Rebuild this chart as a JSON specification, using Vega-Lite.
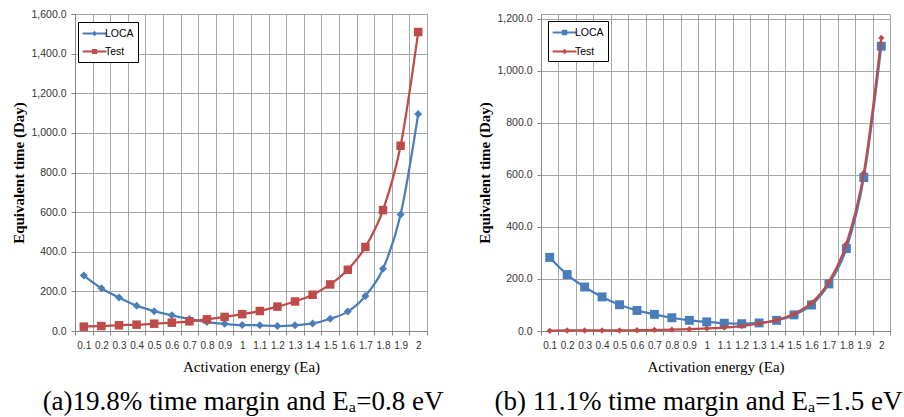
{
  "$schema": "https://vega.github.io/schema/vega-lite/v6.json",
  "background": "white",
  "padding": {"left": 11, "top": 8, "right": 0, "bottom": 0},
  "datasets": {
    "left": [
      {"ea": "0.1", "series": "LOCA", "value": 280}, {"ea": "0.2", "series": "LOCA", "value": 216}, {"ea": "0.3", "series": "LOCA", "value": 169}, {"ea": "0.4", "series": "LOCA", "value": 128}, {"ea": "0.5", "series": "LOCA", "value": 100},
      {"ea": "0.6", "series": "LOCA", "value": 79}, {"ea": "0.7", "series": "LOCA", "value": 61}, {"ea": "0.8", "series": "LOCA", "value": 45}, {"ea": "0.9", "series": "LOCA", "value": 36}, {"ea": "1", "series": "LOCA", "value": 30},
      {"ea": "1.1", "series": "LOCA", "value": 29}, {"ea": "1.2", "series": "LOCA", "value": 25}, {"ea": "1.3", "series": "LOCA", "value": 29}, {"ea": "1.4", "series": "LOCA", "value": 38}, {"ea": "1.5", "series": "LOCA", "value": 62},
      {"ea": "1.6", "series": "LOCA", "value": 98}, {"ea": "1.7", "series": "LOCA", "value": 177}, {"ea": "1.8", "series": "LOCA", "value": 314}, {"ea": "1.9", "series": "LOCA", "value": 588}, {"ea": "2", "series": "LOCA", "value": 1095},
      {"ea": "0.1", "series": "Test", "value": 22}, {"ea": "0.2", "series": "Test", "value": 25}, {"ea": "0.3", "series": "Test", "value": 29}, {"ea": "0.4", "series": "Test", "value": 32}, {"ea": "0.5", "series": "Test", "value": 37},
      {"ea": "0.6", "series": "Test", "value": 42}, {"ea": "0.7", "series": "Test", "value": 49}, {"ea": "0.8", "series": "Test", "value": 59}, {"ea": "0.9", "series": "Test", "value": 71}, {"ea": "1", "series": "Test", "value": 85},
      {"ea": "1.1", "series": "Test", "value": 101}, {"ea": "1.2", "series": "Test", "value": 123}, {"ea": "1.3", "series": "Test", "value": 149}, {"ea": "1.4", "series": "Test", "value": 183}, {"ea": "1.5", "series": "Test", "value": 235},
      {"ea": "1.6", "series": "Test", "value": 309}, {"ea": "1.7", "series": "Test", "value": 424}, {"ea": "1.8", "series": "Test", "value": 610}, {"ea": "1.9", "series": "Test", "value": 935}, {"ea": "2", "series": "Test", "value": 1509}
    ],
    "right": [
      {"ea": "0.1", "series": "LOCA", "value": 283}, {"ea": "0.2", "series": "LOCA", "value": 217}, {"ea": "0.3", "series": "LOCA", "value": 169}, {"ea": "0.4", "series": "LOCA", "value": 131}, {"ea": "0.5", "series": "LOCA", "value": 101},
      {"ea": "0.6", "series": "LOCA", "value": 79}, {"ea": "0.7", "series": "LOCA", "value": 64}, {"ea": "0.8", "series": "LOCA", "value": 51}, {"ea": "0.9", "series": "LOCA", "value": 41}, {"ea": "1", "series": "LOCA", "value": 35},
      {"ea": "1.1", "series": "LOCA", "value": 30}, {"ea": "1.2", "series": "LOCA", "value": 28}, {"ea": "1.3", "series": "LOCA", "value": 31}, {"ea": "1.4", "series": "LOCA", "value": 41}, {"ea": "1.5", "series": "LOCA", "value": 62},
      {"ea": "1.6", "series": "LOCA", "value": 100}, {"ea": "1.7", "series": "LOCA", "value": 181}, {"ea": "1.8", "series": "LOCA", "value": 317}, {"ea": "1.9", "series": "LOCA", "value": 590}, {"ea": "2", "series": "LOCA", "value": 1095},
      {"ea": "0.1", "series": "Test", "value": 0.5}, {"ea": "0.2", "series": "Test", "value": 2}, {"ea": "0.3", "series": "Test", "value": 2}, {"ea": "0.4", "series": "Test", "value": 2}, {"ea": "0.5", "series": "Test", "value": 2},
      {"ea": "0.6", "series": "Test", "value": 3}, {"ea": "0.7", "series": "Test", "value": 4}, {"ea": "0.8", "series": "Test", "value": 5}, {"ea": "0.9", "series": "Test", "value": 7}, {"ea": "1", "series": "Test", "value": 10},
      {"ea": "1.1", "series": "Test", "value": 13}, {"ea": "1.2", "series": "Test", "value": 19}, {"ea": "1.3", "series": "Test", "value": 29}, {"ea": "1.4", "series": "Test", "value": 42}, {"ea": "1.5", "series": "Test", "value": 66},
      {"ea": "1.6", "series": "Test", "value": 108}, {"ea": "1.7", "series": "Test", "value": 189}, {"ea": "1.8", "series": "Test", "value": 335}, {"ea": "1.9", "series": "Test", "value": 608}, {"ea": "2", "series": "Test", "value": 1127}
    ]
  },
  "resolve": {
    "scale": {"fill": "independent", "shape": "independent", "stroke": "independent"},
    "legend": {"fill": "independent", "shape": "independent", "stroke": "independent"}
  },
  "hconcat": [
    {
      "width": 352,
      "height": 317,
      "data": {"name": "left"},
      "title": {"text": "(a)19.8% time margin and Eₐ=0.8 eV", "orient": "bottom", "dx": -8, "offset": 15},
      "encoding": {
        "x": {"field": "ea", "type": "ordinal", "sort": null, "scale": {"type": "band", "paddingInner": 0, "paddingOuter": 0},
              "axis": {"title": "Activation energy (Ea)", "labelAngle": 0, "tickBand": "extent", "grid": true, "labelOverlap": false}},
        "y": {"field": "value", "type": "quantitative", "scale": {"domain": [0, 1600], "nice": false},
              "axis": {"title": "Equivalent time (Day)", "values": [0, 200, 400, 600, 800, 1000, 1200, 1400, 1600], "format": ",.1f", "grid": true}}
      },
      "layer": [
        {"transform": [{"filter": "datum.series === 'LOCA'"}], "mark": {"type": "line", "interpolate": "monotone", "strokeWidth": 2.25, "color": "#4A7EBB"}},
        {"transform": [{"filter": "datum.series === 'LOCA'"}], "mark": {"type": "point", "filled": true, "opacity": 1, "shape": "diamond", "size": 64, "color": "#4A7EBB"}},
        {"transform": [{"filter": "datum.series === 'Test'"}], "mark": {"type": "line", "interpolate": "monotone", "strokeWidth": 2.25, "color": "#BE4B48"}},
        {"transform": [{"filter": "datum.series === 'Test'"}], "mark": {"type": "point", "filled": true, "opacity": 1, "shape": "square", "size": 72, "color": "#BE4B48"}},
        {"mark": {"type": "point", "filled": true, "opacity": 0, "strokeWidth": 2},
         "encoding": {
           "fill": {"field": "series", "type": "nominal", "scale": {"domain": ["LOCA", "Test"], "range": ["#4A7EBB", "#BE4B48"]},
             "legend": {"title": null, "orient": "none", "legendX": 3, "legendY": 8, "strokeColor": "black", "fillColor": "white", "padding": 4, "symbolOpacity": 1, "symbolStrokeWidth": 2,
               "symbolSize": 156, "symbolOffset": 5, "labelOffset": 3, "rowPadding": 5, "labelFont": "Liberation Sans", "labelFontSize": 10.5, "labelColor": "black"}},
           "stroke": {"field": "series", "type": "nominal", "scale": {"domain": ["LOCA", "Test"], "range": ["#4A7EBB", "#BE4B48"]},
             "legend": {"title": null, "orient": "none", "legendX": 3, "legendY": 8, "strokeColor": "black", "fillColor": "white", "padding": 4, "symbolOpacity": 1, "symbolStrokeWidth": 2,
               "symbolSize": 156, "symbolOffset": 5, "labelOffset": 3, "rowPadding": 5, "labelFont": "Liberation Sans", "labelFontSize": 10.5, "labelColor": "black"}},
           "shape": {"field": "series", "type": "nominal", "scale": {"domain": ["LOCA", "Test"], "range": ["M-1.9,0H1.9M0,-0.22L0.22,0L0,0.22L-0.22,0Z", "M-1.9,0H1.9M-0.26,-0.26H0.26V0.26H-0.26Z"]},
             "legend": {"title": null, "orient": "none", "legendX": 3, "legendY": 8, "strokeColor": "black", "fillColor": "white", "padding": 4, "symbolOpacity": 1, "symbolStrokeWidth": 2,
               "symbolSize": 156, "symbolOffset": 5, "labelOffset": 3, "rowPadding": 5, "labelFont": "Liberation Sans", "labelFontSize": 10.5, "labelColor": "black"}}
         }}
      ]
    },
    {
      "width": 349,
      "height": 317,
      "data": {"name": "right"},
      "title": {"text": "(b) 11.1% time margin and Eₐ=1.5 eV", "orient": "bottom", "dx": -17, "offset": 15},
      "encoding": {
        "x": {"field": "ea", "type": "ordinal", "sort": null, "scale": {"type": "band", "paddingInner": 0, "paddingOuter": 0},
              "axis": {"title": "Activation energy (Ea)", "labelAngle": 0, "tickBand": "extent", "grid": true, "labelOverlap": false}},
        "y": {"field": "value", "type": "quantitative", "scale": {"domain": [0, 1219], "nice": false},
              "axis": {"title": "Equivalent time (Day)", "values": [0, 200, 400, 600, 800, 1000, 1200], "format": ",.1f", "grid": true}}
      },
      "layer": [
        {"transform": [{"filter": "datum.series === 'LOCA'"}], "mark": {"type": "line", "interpolate": "monotone", "strokeWidth": 2.25, "color": "#4A7EBB"}},
        {"transform": [{"filter": "datum.series === 'LOCA'"}], "mark": {"type": "point", "filled": true, "opacity": 1, "shape": "square", "size": 80, "color": "#4A7EBB"}},
        {"transform": [{"filter": "datum.series === 'Test'"}], "mark": {"type": "line", "interpolate": "monotone", "strokeWidth": 2.25, "color": "#BE4B48"}},
        {"transform": [{"filter": "datum.series === 'Test'"}], "mark": {"type": "point", "filled": true, "opacity": 1, "shape": "diamond", "size": 40, "color": "#BE4B48"}},
        {"mark": {"type": "point", "filled": true, "opacity": 0, "strokeWidth": 2},
         "encoding": {
           "fill": {"field": "series", "type": "nominal", "scale": {"domain": ["LOCA", "Test"], "range": ["#4A7EBB", "#BE4B48"]},
             "legend": {"title": null, "orient": "none", "legendX": 7, "legendY": 7, "strokeColor": "black", "fillColor": "white", "padding": 4, "symbolOpacity": 1, "symbolStrokeWidth": 2,
               "symbolSize": 156, "symbolOffset": 5, "labelOffset": 3, "rowPadding": 5, "labelFont": "Liberation Sans", "labelFontSize": 10.5, "labelColor": "black"}},
           "stroke": {"field": "series", "type": "nominal", "scale": {"domain": ["LOCA", "Test"], "range": ["#4A7EBB", "#BE4B48"]},
             "legend": {"title": null, "orient": "none", "legendX": 7, "legendY": 7, "strokeColor": "black", "fillColor": "white", "padding": 4, "symbolOpacity": 1, "symbolStrokeWidth": 2,
               "symbolSize": 156, "symbolOffset": 5, "labelOffset": 3, "rowPadding": 5, "labelFont": "Liberation Sans", "labelFontSize": 10.5, "labelColor": "black"}},
           "shape": {"field": "series", "type": "nominal", "scale": {"domain": ["LOCA", "Test"], "range": ["M-1.9,0H1.9M-0.28,-0.28H0.28V0.28H-0.28Z", "M-1.9,0H1.9M0,-0.2L0.2,0L0,0.2L-0.2,0Z"]},
             "legend": {"title": null, "orient": "none", "legendX": 7, "legendY": 7, "strokeColor": "black", "fillColor": "white", "padding": 4, "symbolOpacity": 1, "symbolStrokeWidth": 2,
               "symbolSize": 156, "symbolOffset": 5, "labelOffset": 3, "rowPadding": 5, "labelFont": "Liberation Sans", "labelFontSize": 10.5, "labelColor": "black"}}
         }}
      ]
    }
  ],
  "config": {
    "concat": {"spacing": 33},
    "view": {"stroke": "#A6A6A6"},
    "axis": {"gridColor": "#A6A6A6", "gridWidth": 1, "domainColor": "#868686", "tickColor": "#868686", "tickSize": 4,
             "labelFont": "Liberation Sans", "labelFontSize": 10, "labelColor": "#333333", "titleFont": "Liberation Serif", "titleColor": "black"},
    "axisY": {"titleFontWeight": "bold", "titleFontSize": 15, "labelPadding": 5, "titlePadding": 4, "labelFontSize": 10.5},
    "axisX": {"titleFontWeight": "normal", "titleFontSize": 15, "labelPadding": 5, "titlePadding": 9},
    "title": {"font": "Liberation Serif", "fontSize": 27, "fontWeight": "normal", "color": "black"}
  }
}
